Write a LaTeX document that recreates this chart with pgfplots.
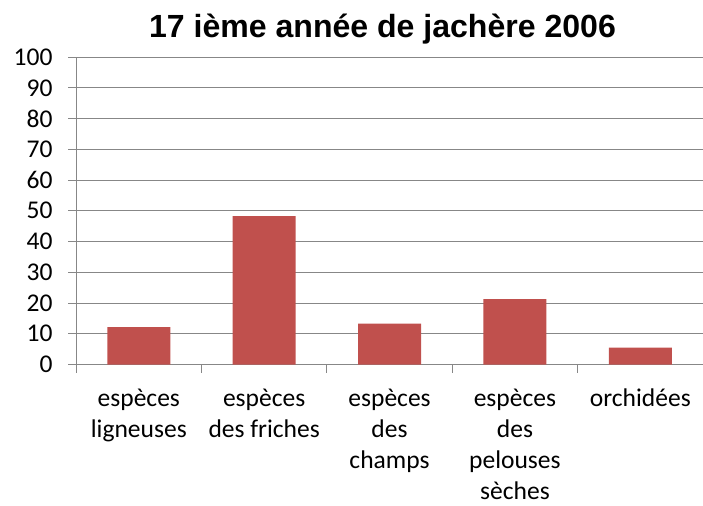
\documentclass[border=0pt]{standalone}
\usepackage{pgfplots}
\pgfplotsset{compat=1.18}
\usepackage{fontspec}
\setmainfont{Carlito}
\newfontfamily\titlefont{Liberation Sans}
\definecolor{barred}{HTML}{C0504D}
\definecolor{gridgray}{HTML}{878787}
\begin{document}
\begin{tikzpicture}
\useasboundingbox (-76pt,-141pt) rectangle (626pt,364pt);
\begin{axis}[
  scale only axis,
  width=626pt, height=307pt,
  xmin=0.5, xmax=5.5,
  ymin=0, ymax=100,
  ytick={0,10,...,100},
  axis x line=bottom, axis y line=left,
  axis line style={-, draw=gridgray, line width=1pt},
  ymajorgrids,
  grid style={draw=gridgray, line width=1pt},
  tick align=outside,
  major tick length=8pt,
  tick style={draw=gridgray, line width=1pt},
  xtick={1,2,3,4,5},
  xticklabels={{espèces\\ligneuses},{espèces\\des friches},{espèces\\des\\champs},{espèces\\des\\pelouses\\sèches},{orchidées}},
  major x tick style={draw=none},
  extra x ticks={0.5,1.5,2.5,3.5,4.5,5.5},
  extra x tick labels={},
  extra x tick style={major x tick style={draw=gridgray, line width=1pt}, grid=none},
  tick label style={font=\fontsize{25.5}{31}\selectfont},
  xticklabel style={align=center, anchor=north, yshift=-13pt},
  yticklabel style={anchor=east, xshift=-12pt},
  /pgf/number format/assume math mode=true,
  title={\titlefont\bfseries\fontsize{32}{36}\selectfont 17 ième année de jachère 2006},
  title style={at={(0.5,1)}, anchor=base, yshift=14pt, xshift=-7pt},
  ybar, bar width=63pt,
]
\addplot[fill=barred, draw=none] coordinates {(1,12.2) (2,48.3) (3,13.3) (4,21.3) (5,5.5)};
\end{axis}
\end{tikzpicture}
\end{document}
